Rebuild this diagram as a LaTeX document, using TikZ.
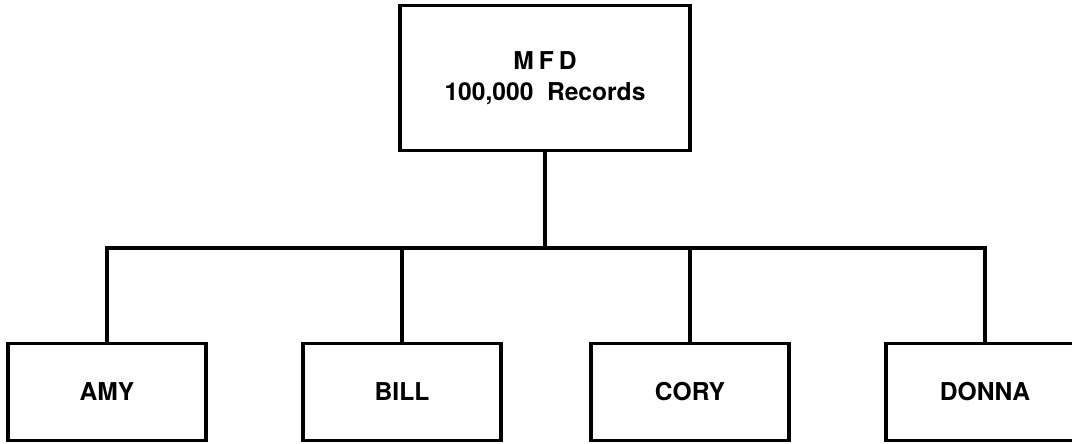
\documentclass[tikz,border=0pt]{standalone}
\usepackage{fontspec}
\setmainfont{TeX Gyre Heros}
\usepackage{tikz}
\usetikzlibrary{positioning}

\begin{document}
\begin{tikzpicture}[
	x=0.2mm, y=-0.2mm,
	font=\fontsize{14}{17.5}\selectfont\bfseries,
	cx/.style={rectangle, draw=black, line width=2pt, align=center, inner sep=0pt},
	topo/.style={cx, minimum width=58mm, minimum height=29mm},
	folha/.style={cx, minimum width=39.6mm, minimum height=19.4mm},
	liga/.style={line width=1.8pt, line join=miter},
]
\useasboundingbox (0,0) rectangle (1072,443);
% Arquivo mestre
\node[topo] (mfd) at (545,78) {M\hspace{0.2em}F\hspace{0.2em}D\\100,000\hspace{0.55em}Records};
\coordinate (bus) at (545,248);
% Usuarios
\node[folha] (amy) at (107,392) {AMY};
\node[folha] (bill) at (402,392) {BILL};
\node[folha] (cory) at (690,392) {CORY};
\node[folha] (donna) at (985,392) {DONNA};
\draw[liga] (mfd) -- (bus);
\draw[liga] (amy.north) |- (bus); \draw[liga] (bill.north) |- (bus);
\draw[liga] (cory.north) |- (bus); \draw[liga] (donna.north) |- (bus);
\end{tikzpicture}
\end{document}
